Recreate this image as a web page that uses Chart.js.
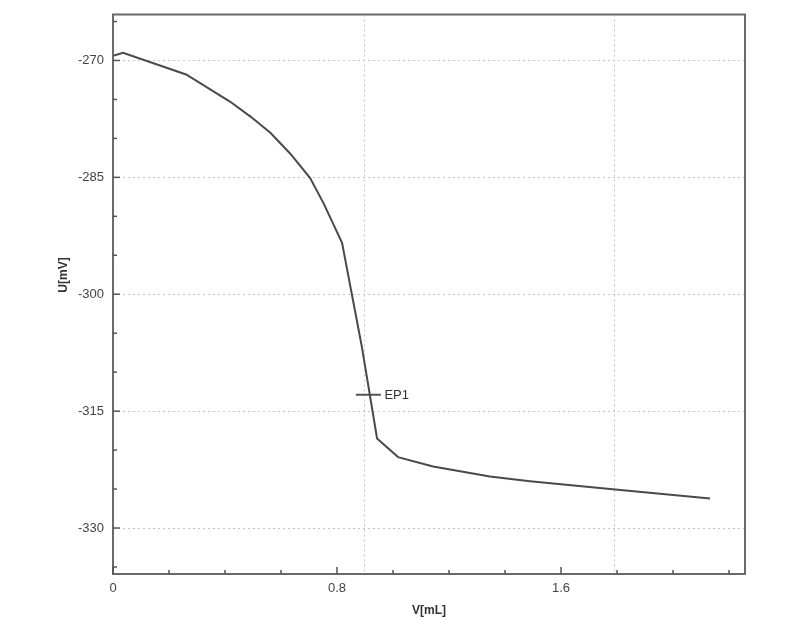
<!DOCTYPE html>
<html>
<head>
<meta charset="utf-8">
<script src="https://cdn.jsdelivr.net/npm/chart.js@4"></script>
<style>
  html, body { margin: 0; padding: 0; background: #fff; }
  #wrap { width: 800px; height: 633px; }
</style>
</head>
<body>
<div id="wrap"><canvas id="graph"></canvas></div>
<script>
// titration curve
const volume = [0, 0.036, 0.261, 0.419, 0.491, 0.563, 0.634, 0.704, 0.753, 0.818, 0.889, 0.943, 1.018, 1.143, 1.346, 1.489, 1.775, 2.132];
const potential = [-269.4, -269.0, -271.8, -275.3, -277.2, -279.3, -282.0, -285.1, -288.4, -293.4, -306.8, -318.5, -320.9, -322.1, -323.4, -324.0, -325.0, -326.2];

// equivalence point marker
const epVolume = [0.912];
const epPotential = [-312.9];
const epLabel = 'EP1';

// dotted vertical grid positions
const vGrid = [0.895, 1.79];

const xMin = 0, xMax = 2.257;
const yMin = -335.9, yMax = -264.1;

const FONT = '"Liberation Sans", Arial, sans-serif';

const decor = {
  id: 'decor',
  beforeDatasetsDraw(chart) {
    const { ctx, chartArea: a, scales: { x } } = chart;
    ctx.save();
    ctx.strokeStyle = '#c4c4c4';
    ctx.lineWidth = 1;
    ctx.setLineDash([2, 3]);
    vGrid.forEach(v => {
      const px = Math.round(x.getPixelForValue(v)) + 0.5;
      ctx.beginPath();
      ctx.moveTo(px, a.top);
      ctx.lineTo(px, a.bottom);
      ctx.stroke();
    });
    ctx.restore();
  },
  afterDatasetsDraw(chart) {
    const { ctx, chartArea: a, scales: { x, y } } = chart;
    ctx.save();
    // frame
    ctx.strokeStyle = '#6a6a6a';
    ctx.lineWidth = 2;
    ctx.strokeRect(a.left, a.top, a.right - a.left, a.bottom - a.top);

    // inward ticks
    ctx.lineWidth = 1.5;
    ctx.strokeStyle = '#555';
    x.ticks.forEach(t => {
      const px = x.getPixelForValue(t.value);
      const len = Math.round(t.value * 10) % 8 === 0 ? 7 : 4;
      ctx.beginPath();
      ctx.moveTo(px, a.bottom);
      ctx.lineTo(px, a.bottom - len);
      ctx.stroke();
    });
    y.ticks.forEach(t => {
      const py = y.getPixelForValue(t.value);
      const len = Math.round(t.value) % 15 === 0 ? 7 : 4;
      ctx.beginPath();
      ctx.moveTo(a.left, py);
      ctx.lineTo(a.left + len, py);
      ctx.stroke();
    });

    // EP label
    ctx.fillStyle = '#333';
    ctx.font = '13px ' + FONT;
    ctx.textBaseline = 'middle';
    ctx.fillText(epLabel, x.getPixelForValue(epVolume[0]) + 16, y.getPixelForValue(epPotential[0]) + 1);

    // axis titles
    ctx.font = 'bold 12px ' + FONT;
    ctx.textAlign = 'center';
    ctx.fillText('V[mL]', (a.left + a.right) / 2, 611);
    ctx.translate(64, 275);
    ctx.rotate(-Math.PI / 2);
    ctx.fillText('U[mV]', 0, 0);
    ctx.restore();
  }
};

new Chart(document.getElementById('graph'), {
  type: 'line',
  data: {
    datasets: [{
      label: 'U',
      data: volume.map((v, i) => ({ x: v, y: potential[i] })),
      borderColor: '#4a4a4a',
      borderWidth: 2,
      pointRadius: 0,
      tension: 0,
      fill: false
    }, {
      label: epLabel,
      data: epVolume.map((v, i) => ({ x: v, y: epPotential[i] })),
      showLine: false,
      pointStyle: 'line',
      pointRadius: 12.5,
      borderColor: '#555',
      borderWidth: 2
    }]
  },
  options: {
    responsive: true,
    maintainAspectRatio: false,
    animation: false,
    layout: { padding: { top: 13, right: 55, left: 0, bottom: 0 } },
    plugins: { legend: { display: false }, tooltip: { enabled: false } },
    scales: {
      x: {
        type: 'linear',
        min: xMin,
        max: xMax,
        afterFit: s => { s.height = 59; s.paddingLeft = 0; s.paddingRight = 0; },
        border: { display: false },
        grid: { drawOnChartArea: false, drawTicks: false },
        ticks: {
          stepSize: 0.2,
          includeBounds: false,
          autoSkip: false,
          maxRotation: 0,
          padding: 7,
          color: '#444',
          font: { family: FONT, size: 13 },
          callback: v => Math.round(v * 10) % 8 === 0 ? String(+v.toFixed(1)) : ''
        }
      },
      y: {
        min: yMin,
        max: yMax,
        afterFit: s => { s.width = 113; s.paddingTop = 0; s.paddingBottom = 0; },
        border: { display: false, dash: [2, 3] },
        grid: {
          drawTicks: false,
          lineWidth: 1,
          color: c => Math.round(c.tick.value) % 15 === 0 ? '#c4c4c4' : 'rgba(0,0,0,0)'
        },
        ticks: {
          stepSize: 5,
          includeBounds: false,
          autoSkip: false,
          padding: 9,
          color: '#444',
          font: { family: FONT, size: 13 },
          callback: v => Math.round(v) % 15 === 0 ? String(Math.round(v)) : ''
        }
      }
    }
  },
  plugins: [decor]
});
</script>
</body>
</html>
